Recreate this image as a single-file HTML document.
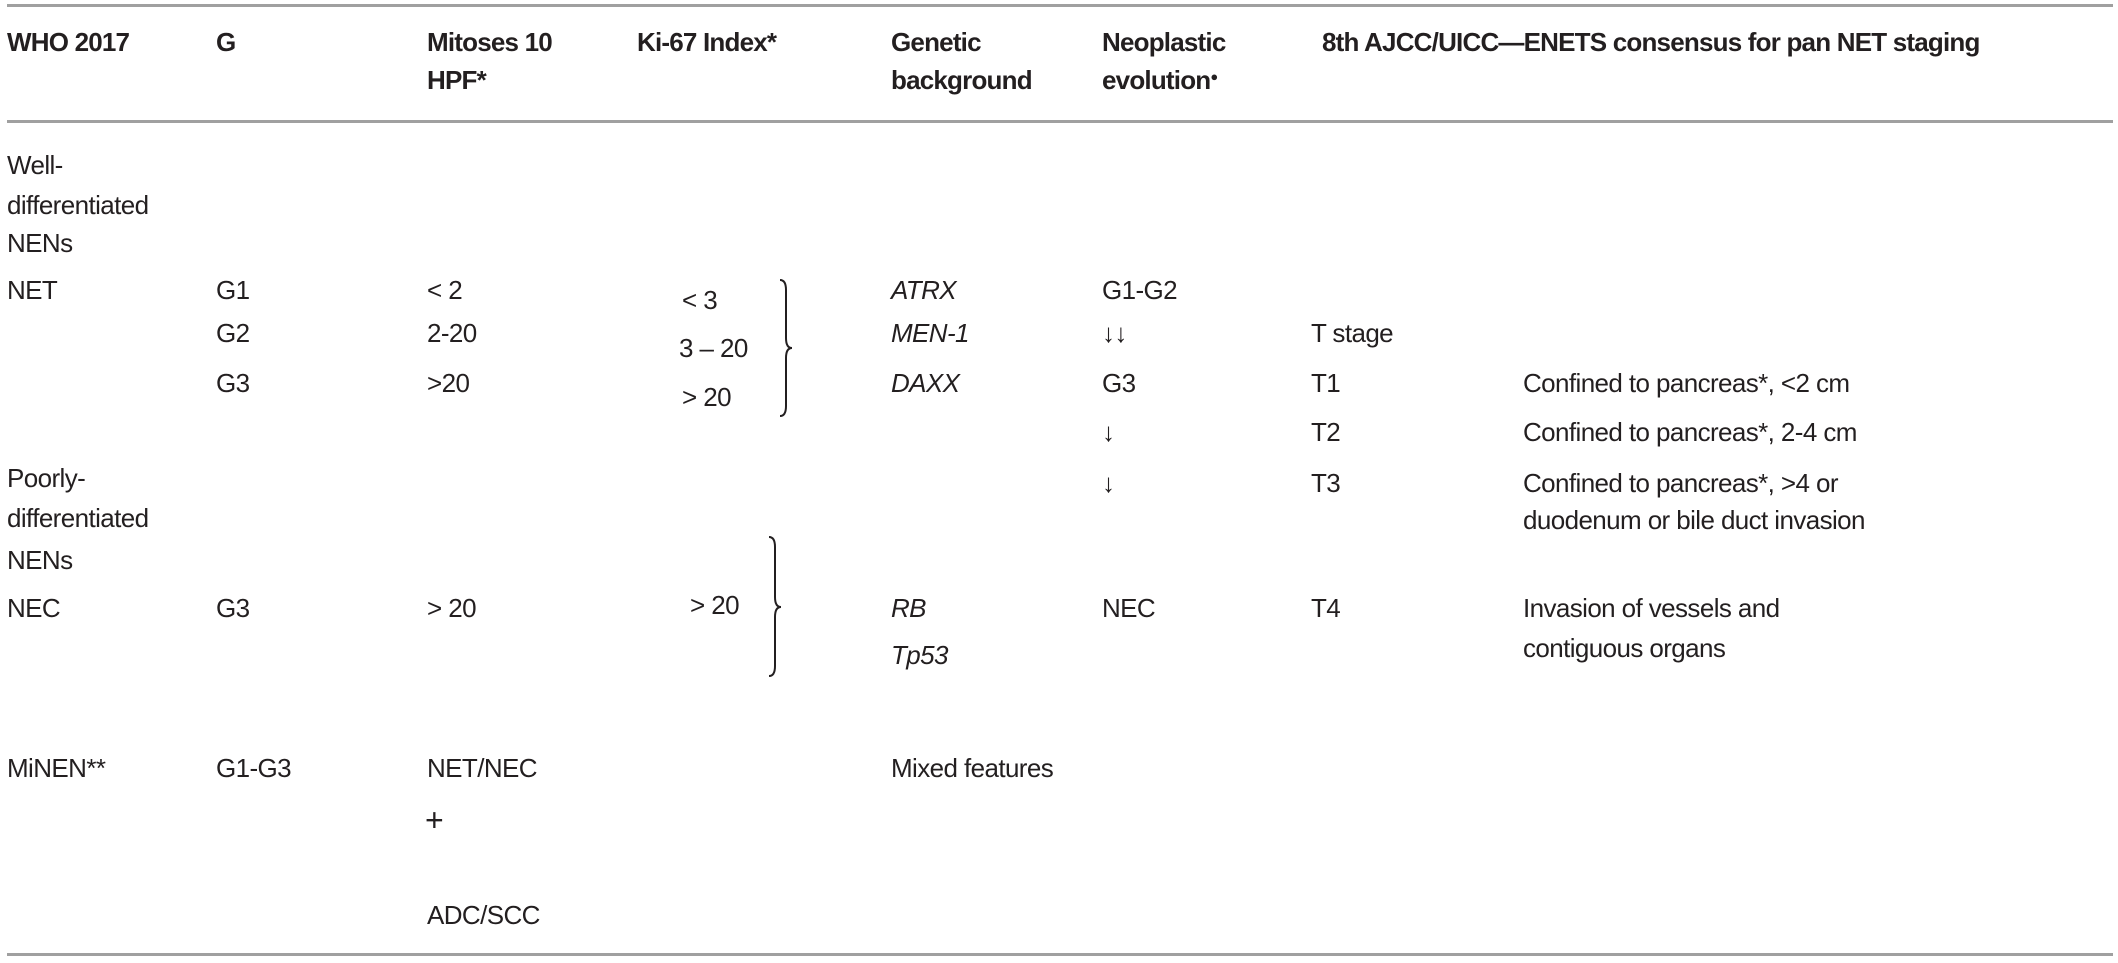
<!DOCTYPE html>
<html><head><meta charset="utf-8"><style>
body{margin:0;width:2118px;height:963px;background:#fff;position:relative;overflow:hidden;font-family:"Liberation Sans",Arial,sans-serif;color:#231f20}
.t{position:absolute;font-size:26px;line-height:30px;white-space:nowrap;letter-spacing:-0.6px}
.b{font-weight:bold;letter-spacing:-0.8px}
.i{font-style:italic}
.l{position:absolute;left:7px;width:2106px;height:3px;background:#a0a0a0}
sup{line-height:0;vertical-align:8px}
</style></head><body>
<div class="l" style="top:4px"></div>
<div class="l" style="top:120px"></div>
<div class="l" style="top:953px"></div>

<div class="t b" style="left:7px;top:27px">WHO 2017</div>
<div class="t b" style="left:216px;top:27px">G</div>
<div class="t b" style="left:427px;top:27px">Mitoses 10</div>
<div class="t b" style="left:427px;top:65px">HPF*</div>
<div class="t b" style="left:637px;top:27px">Ki-67 Index*</div>
<div class="t b" style="left:891px;top:27px">Genetic</div>
<div class="t b" style="left:891px;top:65px">background</div>
<div class="t b" style="left:1102px;top:27px">Neoplastic</div>
<div class="t b" style="left:1102px;top:65px">evolution<sup style="font-size:13px">●</sup></div>
<div class="t b" style="left:1322px;top:27px">8th AJCC/UICC—ENETS consensus for pan NET staging</div>

<div class="t" style="left:7px;top:150px">Well-</div>
<div class="t" style="left:7px;top:190px">differentiated</div>
<div class="t" style="left:7px;top:228px">NENs</div>
<div class="t" style="left:7px;top:275px">NET</div>
<div class="t" style="left:216px;top:275px">G1</div>
<div class="t" style="left:216px;top:318px">G2</div>
<div class="t" style="left:216px;top:368px">G3</div>
<div class="t" style="left:427px;top:275px">&lt; 2</div>
<div class="t" style="left:427px;top:318px">2-20</div>
<div class="t" style="left:427px;top:368px">&gt;20</div>
<div class="t" style="left:682px;top:285px">&lt; 3</div>
<div class="t" style="left:679px;top:333px">3 – 20</div>
<div class="t" style="left:682px;top:382px">&gt; 20</div>
<svg style="position:absolute;left:770px;top:278px" width="30" height="142"><path d="M10 2 Q16 2 16 12 L16 60 Q16 70 22 70 Q16 70 16 80 L16 128 Q16 138 10 138" fill="none" stroke="#231f20" stroke-width="2"/></svg>
<div class="t i" style="left:891px;top:275px">ATRX</div>
<div class="t i" style="left:891px;top:318px">MEN-1</div>
<div class="t i" style="left:891px;top:368px">DAXX</div>
<div class="t" style="left:1102px;top:275px">G1-G2</div>
<div class="t" style="left:1102px;top:318px">↓↓</div>
<div class="t" style="left:1102px;top:368px">G3</div>
<div class="t" style="left:1102px;top:417px">↓</div>
<div class="t" style="left:1102px;top:468px">↓</div>
<div class="t" style="left:1311px;top:318px">T stage</div>
<div class="t" style="left:1311px;top:368px">T1</div>
<div class="t" style="left:1311px;top:417px">T2</div>
<div class="t" style="left:1311px;top:468px">T3</div>
<div class="t" style="left:1311px;top:593px">T4</div>
<div class="t" style="left:1523px;top:368px">Confined to pancreas*, &lt;2 cm</div>
<div class="t" style="left:1523px;top:417px">Confined to pancreas*, 2-4 cm</div>
<div class="t" style="left:1523px;top:468px">Confined to pancreas*, &gt;4 or</div>
<div class="t" style="left:1523px;top:505px">duodenum or bile duct invasion</div>
<div class="t" style="left:1523px;top:593px">Invasion of vessels and</div>
<div class="t" style="left:1523px;top:633px">contiguous organs</div>

<div class="t" style="left:7px;top:463px">Poorly-</div>
<div class="t" style="left:7px;top:503px">differentiated</div>
<div class="t" style="left:7px;top:545px">NENs</div>
<div class="t" style="left:7px;top:593px">NEC</div>
<div class="t" style="left:216px;top:593px">G3</div>
<div class="t" style="left:427px;top:593px">&gt; 20</div>
<div class="t" style="left:690px;top:590px">&gt; 20</div>
<svg style="position:absolute;left:760px;top:535px" width="30" height="145"><path d="M9 2 Q15 2 15 12 L15 62 Q15 72 21 72 Q15 72 15 82 L15 131 Q15 141 9 141" fill="none" stroke="#231f20" stroke-width="2"/></svg>
<div class="t i" style="left:891px;top:593px">RB</div>
<div class="t i" style="left:891px;top:640px">Tp53</div>
<div class="t" style="left:1102px;top:593px">NEC</div>

<div class="t" style="left:7px;top:753px">MiNEN**</div>
<div class="t" style="left:216px;top:753px">G1-G3</div>
<div class="t" style="left:427px;top:753px">NET/NEC</div>
<div class="t" style="left:425px;top:805px;font-size:32px">+</div>
<div class="t" style="left:427px;top:900px">ADC/SCC</div>
<div class="t" style="left:891px;top:753px">Mixed features</div>
</body></html>
